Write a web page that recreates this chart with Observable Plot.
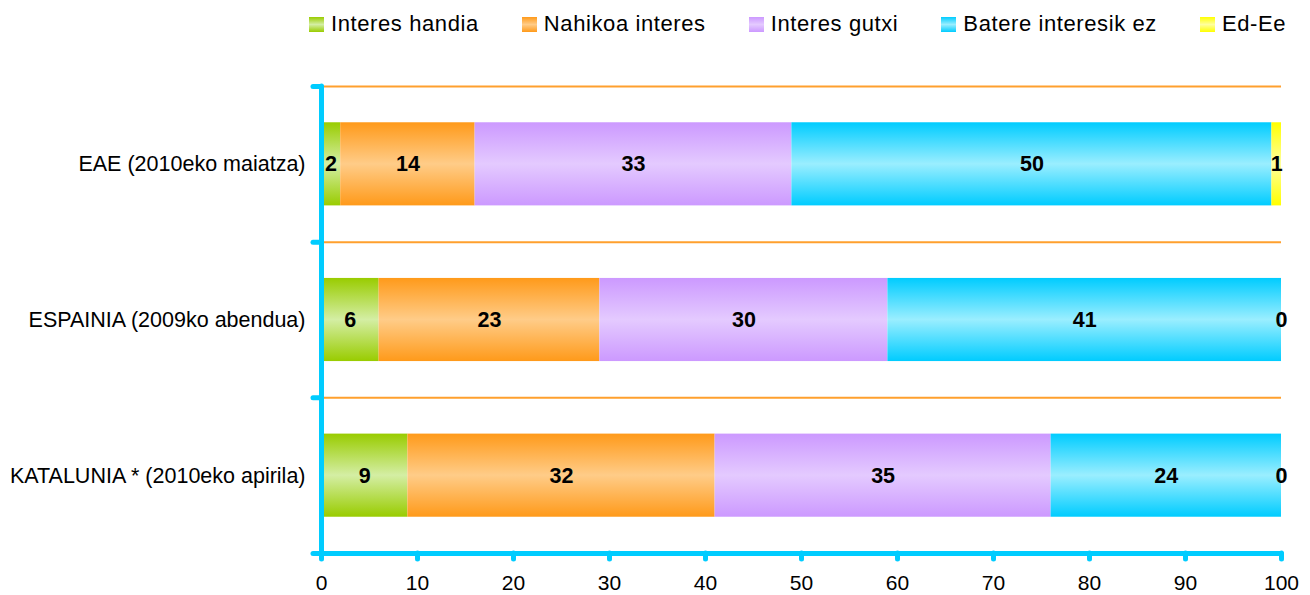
<!DOCTYPE html>
<html>
<head>
<meta charset="utf-8">
<script src="https://cdn.jsdelivr.net/npm/d3@7"></script>
<script src="https://cdn.jsdelivr.net/npm/@observablehq/plot@0.6"></script>
<style>
  html, body { margin: 0; padding: 0; background: #fff; }
  body { width: 1310px; height: 595px; position: relative; overflow: hidden;
         font-family: "Liberation Sans", Arial, sans-serif; }
  #legend { position: absolute; top: 11px; left: 309px; display: flex; align-items: center;
            font-size: 22px; letter-spacing: 0.6px; color: #000; white-space: nowrap; z-index: 2; }
  .item { display: flex; align-items: center; margin-right: 43px; }
  .sw { width: 15px; height: 15px; margin-right: 7px; }
  #chart { position: absolute; top: 0; left: 0; }
</style>
</head>
<body>
<div id="legend"></div>
<div id="chart"></div>
<script>
// ---- data ----
const categories = ["EAE (2010eko maiatza)", "ESPAINIA (2009ko abendua)", "KATALUNIA * (2010eko apirila)"];
const series = ["Interes handia", "Nahikoa interes", "Interes gutxi", "Batere interesik ez", "Ed-Ee"];
const valuesHandia = [2, 6, 9];
const valuesNahikoa = [14, 23, 32];
const valuesGutxi = [33, 30, 35];
const valuesBatere = [50, 41, 24];
const valuesEdEe = [1, 0, 0];
const xTicks = [0, 10, 20, 30, 40, 50, 60, 70, 80, 90, 100];

// ---- styles ----
const gradColors = [
  ["#99cc00", "#d4eea4"],
  ["#ff9a1a", "#ffcc88"],
  ["#cc99ff", "#e4caff"],
  ["#00ccff", "#9aeeff"],
  ["#ffff00", "#ffff9e"]
];
const blue = "#00ccff";
const gridOrange = "#ffa02e";
const barPad = 0.233;

const seriesValues = [valuesHandia, valuesNahikoa, valuesGutxi, valuesBatere, valuesEdEe];
const rows = [];
categories.forEach((c, i) => {
  let acc = 0;
  seriesValues.forEach((vals, k) => {
    const v = vals[i];
    rows.push({cat: c, i, k, value: v, x1: acc, x2: acc + v});
    acc += v;
  });
});

// legend
const legend = document.getElementById("legend");
series.forEach((s, k) => {
  const it = document.createElement("div");
  it.className = "item";
  const sw = document.createElement("div");
  sw.className = "sw";
  sw.style.background = `linear-gradient(to bottom, ${gradColors[k][0]}, ${gradColors[k][1]} 50%, ${gradColors[k][0]})`;
  const t = document.createElement("span");
  t.textContent = s;
  it.appendChild(sw); it.appendChild(t);
  legend.appendChild(it);
});

const n = categories.length;
const marks = [
  Plot.ruleY(d3.range(n), {x1: 0, x2: 100, stroke: gridOrange, strokeWidth: 2}),
  ...series.map((s, k) => Plot.rectX(rows.filter(r => r.k === k), {
    x1: "x1", x2: "x2",
    y1: r => r.i + barPad, y2: r => r.i + 1 - barPad,
    fill: `url(#grad${k})`
  })),
  Plot.text(rows, {
    x: r => (r.x1 + r.x2) / 2, y: r => r.i + 0.5, text: r => String(r.value),
    fontWeight: "bold", fontSize: 21.5, fill: "#000"
  }),
  Plot.ruleX([0], {y1: 0, y2: n, stroke: blue, strokeWidth: 5, strokeLinecap: "round"}),
  Plot.ruleY([n], {x1: 0, x2: 100, stroke: blue, strokeWidth: 5, strokeLinecap: "round"}),
  Plot.axisY({ticks: d3.range(n + 1), tickSize: 8, tickFormat: () => "", stroke: blue,
              strokeWidth: 5, strokeLinecap: "round", label: null}),
  Plot.axisY({ticks: d3.range(n).map(i => i + 0.5), tickSize: 0, tickPadding: 16,
              tickFormat: v => categories[Math.floor(v)], fontSize: 21.5, color: "#000", label: null}),
  Plot.axisX({ticks: xTicks, tickSize: 6, tickPadding: 16, stroke: blue, strokeWidth: 5,
              strokeLinecap: "round", color: "#000", fill: "#000", fontSize: 21, label: null})
];

const svg = Plot.plot({
  width: 1310, height: 595,
  marginLeft: 321, marginRight: 29, marginTop: 86, marginBottom: 42,
  style: {fontFamily: "'Liberation Sans', Arial, sans-serif", fontSize: "21px", color: "#000", background: "transparent"},
  x: {domain: [0, 100]},
  y: {domain: [0, n], reverse: true},
  marks
});

const defs = d3.select(svg).insert("defs", ":first-child");
gradColors.forEach(([dark, light], k) => {
  const g = defs.append("linearGradient").attr("id", `grad${k}`)
    .attr("x1", 0).attr("y1", 0).attr("x2", 0).attr("y2", 1);
  g.append("stop").attr("offset", "0%").attr("stop-color", dark);
  g.append("stop").attr("offset", "50%").attr("stop-color", light);
  g.append("stop").attr("offset", "100%").attr("stop-color", dark);
});

document.getElementById("chart").appendChild(svg);
</script>
</body>
</html>
